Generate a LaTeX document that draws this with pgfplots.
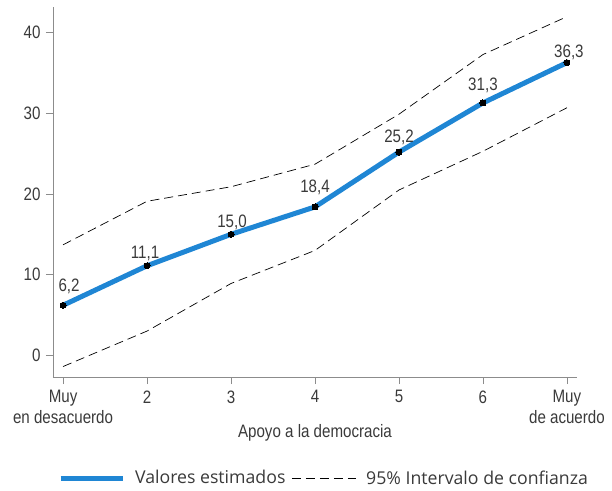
\documentclass[border=0pt]{standalone}
\usepackage{fontspec}
\setmainfont[FakeStretch=0.84]{Liberation Sans}
\newfontfamily\legfont{Open Sans}
\usepackage{pgfplots}
\pgfplotsset{compat=1.18}
\definecolor{lineblue}{HTML}{1F86D4}
\definecolor{txtgray}{HTML}{3A3A3A}
\definecolor{axgray}{HTML}{8C8C8C}

% dy, dx: where each value label sits above its point
\pgfplotstableread{
x y lo hi dy dx
1 6.2 -1.4 13.7 11 6
2 11.1 3.0 19.1 5 -2
3 15.0 8.9 20.9 5 1
4 18.4 13.0 23.7 12 0
5 25.2 20.5 29.9 7 0
6 31.3 25.3 37.3 10 0
7 36.3 30.7 42.0 3 2
}\datos

\newcommand\tfont{\fontsize{18}{21}\selectfont}

\begin{document}
\begin{tikzpicture}[font=\tfont]
\begin{axis}[
    scale only axis,
    width=524pt, height=370pt,
    xmin=0.88, xmax=7.12,
    ymin=-2.7, ymax=43.2,
    axis x line*=bottom, axis y line*=left,
    axis line style={axgray, line width=0.8pt},
    xtick={1,...,7},
    xticklabels={{Muy\\en desacuerdo},2,3,4,5,6,{Muy\\de acuerdo}},
    ytick={0,10,20,30,40},
    tick style={axgray, line width=0.8pt},
    tick align=outside,
    major tick length=7pt,
    xticklabel style={align=center, anchor=north, text=txtgray, yshift=-3pt, font=\tfont},
    yticklabel style={text=txtgray, xshift=-2pt, font=\tfont},
    /pgf/number format/assume math mode=true,
    /pgf/number format/use comma,
    xlabel={Apoyo a la democracia},
    xlabel style={at={(axis description cs:0.5,0)}, anchor=center, yshift=-56pt, text=txtgray, font=\tfont},
    clip=false,
    legend style={draw=none, fill=none, legend columns=2,
        at={(axis description cs:0.5,0)}, anchor=center, yshift=-101pt, xshift=9pt,
        font=\legfont\fontsize{17.7}{20}\selectfont, text=txtgray,
        /tikz/every odd column/.append style={column sep=8pt},
        /tikz/every even column/.append style={column sep=4pt}},
]
\addplot[lineblue, line width=5pt,
    mark=*, mark size=3pt, mark options={black, line width=0pt},
    visualization depends on={\thisrow{dy}\as\dy},
    visualization depends on={\thisrow{dx}\as\dx},
    nodes near coords={\pgfmathprintnumber[fixed, fixed zerofill, precision=1, use comma]{\pgfplotspointmeta}},
    every node near coord/.append style={text=txtgray, font=\tfont, anchor=south, inner sep=0pt, yshift=\dy pt, xshift=\dx pt},
    point meta=explicit,
    legend image code/.code={\draw[lineblue, line width=5pt] (0pt,0pt) -- (62pt,0pt);}]
    table[x=x, y=y, meta=y] {\datos};
\addlegendentry{Valores estimados}
\addplot[black, line width=0.7pt, dash pattern=on 9pt off 5pt,
    legend image code/.code={\draw[black, line width=0.7pt, dash pattern=on 9pt off 5pt] (0pt,0pt) -- (64pt,0pt);}]
    table[x=x, y=hi] {\datos};
\addlegendentry{95\% Intervalo de confianza}
\addplot[black, line width=0.7pt, dash pattern=on 9pt off 5pt, forget plot]
    table[x=x, y=lo] {\datos};
\end{axis}
\pgfresetboundingbox
\path ([shift={(-53pt,-113pt)}]current axis.south west) rectangle ([shift={(35pt,7pt)}]current axis.north east);
\end{tikzpicture}
\end{document}
